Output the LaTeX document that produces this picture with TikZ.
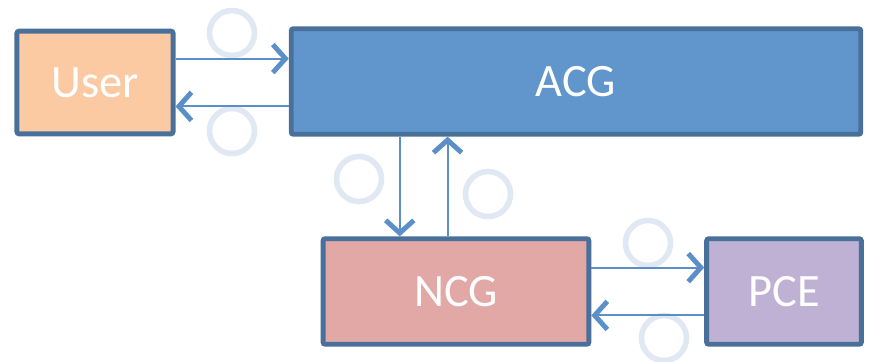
\documentclass[tikz,border=0pt]{standalone}
\usepackage{fontspec}
\setmainfont{Carlito}
\usetikzlibrary{arrows.meta}
\definecolor{edgeblue}{HTML}{48709A}
\definecolor{linkblue}{HTML}{5B8FC8}
\definecolor{ringblue}{HTML}{E0E8F3}
\definecolor{userfill}{HTML}{FBCAA2}
\definecolor{acgfill}{HTML}{6096CB}
\definecolor{ncgfill}{HTML}{E2A8A6}
\definecolor{pcefill}{HTML}{BFB1D3}
\tikzset{
	block/.style = { draw = edgeblue, line width = 3.5pt, rounded corners = 1.5pt,
		text = white, font = \fontsize{33}{39}\selectfont, inner sep = 0pt },
	link/.style = { draw = linkblue, line width = 1.5pt,
		-{Straight Barb[length = 9pt, width = 20pt, line width = 3.5pt]} },
	ring/.style = { draw = ringblue, line width = 4pt, circle,
		minimum size = 32pt, inner sep = 0pt }
}
\begin{document}
\begin{tikzpicture}[x = 0.025cm, y = -0.025cm]
	\useasboundingbox (0,0) rectangle (870,362);
	% numbered rings
	\node [ring] (r1) at (232,33) {};
	\node [ring] (r2) at (232,131) {};
	\node [ring] (r3) at (359,179) {};
	\node [ring] (r4) at (488,194) {};
	\node [ring] (r5) at (648,243) {};
	\node [ring] (r6) at (664,338) {};
	% blocks
	\node [block, fill = userfill, minimum width = 111pt, minimum height = 73pt] (user) at (95,82.5) { User };
	\node [block, fill = acgfill, minimum width = 405pt, minimum height = 75pt] (acg) at (576,81.5) { ACG };
	\node [block, fill = ncgfill, minimum width = 189pt, minimum height = 75pt] (ncg) at (456,291.5) { NCG };
	\node [block, fill = pcefill, minimum width = 110pt, minimum height = 75pt] (pce) at (784,291.5) { PCE };
	% links
	\draw [link] ([yshift = 17pt]user.east) -- ([yshift = 17pt]user.east -| acg.west);
	\draw [link] ([yshift = -17pt]user.east -| acg.west) -- ([yshift = -17pt]user.east);
	\draw [link] ([xshift = -40pt]ncg.north |- acg.south) -- ([xshift = -40pt]ncg.north);
	\draw [link] ([xshift = -6pt]ncg.north) -- ([xshift = -6pt]ncg.north |- acg.south);
	\draw [link] ([yshift = 17pt]ncg.east) -- ([yshift = 17pt]ncg.east -| pce.west);
	\draw [link] ([yshift = -17pt]ncg.east -| pce.west) -- ([yshift = -17pt]ncg.east);
\end{tikzpicture}
\end{document}
